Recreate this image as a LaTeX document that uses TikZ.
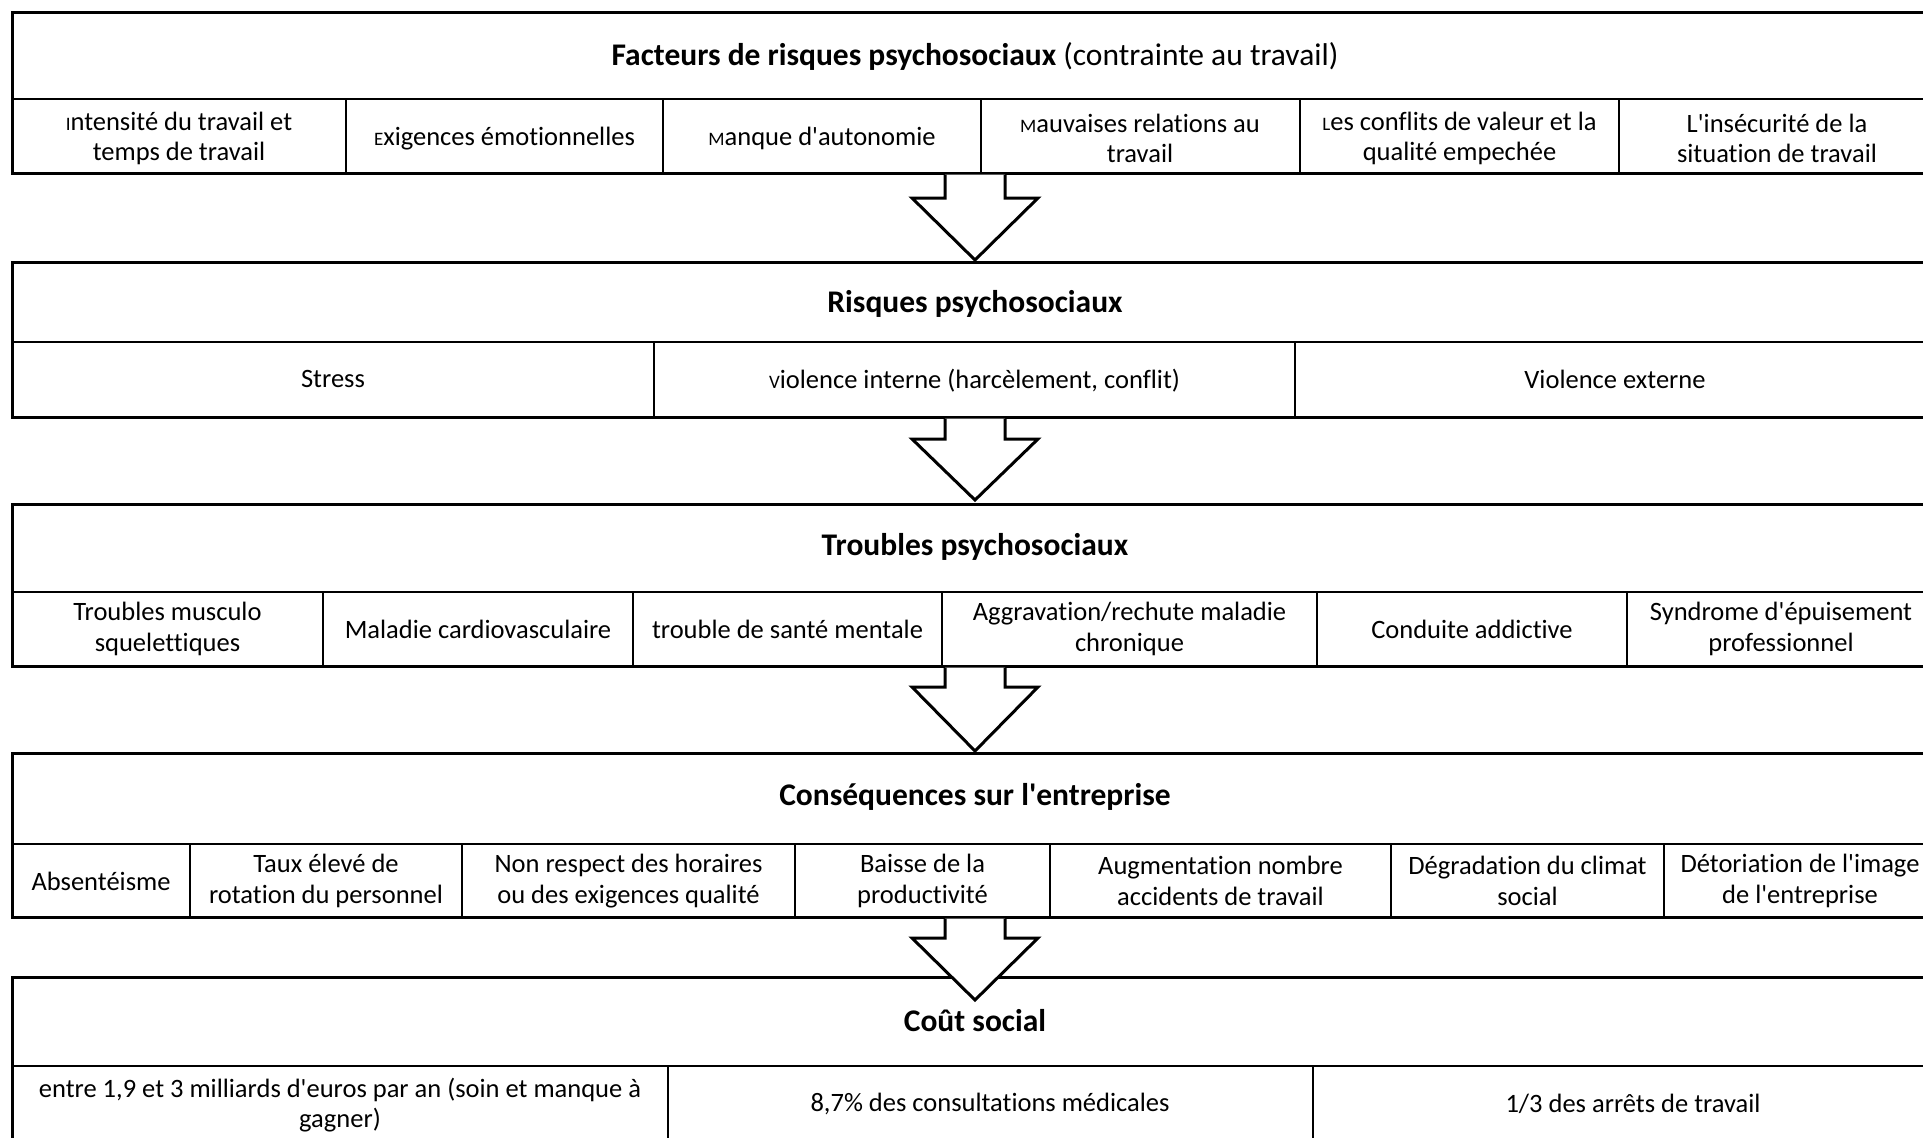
\documentclass[tikz,border=0pt]{standalone}
\usepackage{fontspec}
\setmainfont{Carlito}[Ligatures={TeXOff,NoCommon}]
\newcommand\smc[1]{{\fontsize{19}{19}\selectfont #1}}
\newcommand\blockarrow[3]{%
  \draw[barrow] (#1) ++(-30,1.5) -- ++(0,#2) -- ++(-33,0) -- ++(63,#3) -- ++(63,-#3) -- ++(-33,0) -- ++(0,-#2);}
\begin{document}
\begin{tikzpicture}[x=1pt,y=-1pt,
  outer/.style={line width=3pt,line join=miter},
  hline/.style={line width=2.5pt},
  divline/.style={line width=2pt},
  thindiv/.style={line width=1.3pt},
  cell/.style={align=center,font=\fontsize{26.5}{30.5}\selectfont,inner sep=0pt},
  head/.style={font=\fontsize{31.5}{36}\selectfont\bfseries,inner sep=0pt},
  barrow/.style={line width=3pt,fill=white,line join=miter}]
\useasboundingbox (0,0) rectangle (1923,1138);
\clip (0,0) rectangle (1923,1138);

% ---------- Block 1
\draw[outer] (12,12) rectangle (1950,173);
\draw[hline] (12,99) -- (1950,99);
\foreach \x in {346,663,981,1300,1619} \draw[divline] (\x,99) -- (\x,173);
\node[head] (h1) at (975,56) {Facteurs de risques psychosociaux \mdseries(contrainte au travail)};
\node[cell] (c11) at (179,138.5) {\smc{I}ntensité du travail et\\temps de travail};
\node[cell] (c12) at (504.5,138.5) {\smc{E}xigences émotionnelles};
\node[cell] (c13) at (822,138.5) {\smc{M}anque d'autonomie};
\node[cell] (c14) at (1140,138.5) {\smc{M}auvaises relations au\\travail};
\node[cell] (c15) at (1459.5,138.5) {\smc{L}es conflits de valeur et la\\qualité empechée};
\node[cell] (c16) at (1777,138.5) {L'insécurité de la\\situation de travail};

% ---------- Block 2
\draw[outer] (12,262) rectangle (1950,417);
\draw[hline] (12,342) -- (1950,342);
\foreach \x in {654,1295} \draw[divline] (\x,342) -- (\x,417);
\node[head] (h2) at (975,304) {Risques psychosociaux};
\node[cell] (c21) at (333,379) {Stress};
\node[cell] (c22) at (974.5,380.5) {\smc{V}iolence interne (harcèlement, conflit)};
\node[cell] (c23) at (1615,379) {Violence externe};

% ---------- Block 3
\draw[outer] (12,504) rectangle (1950,666);
\draw[hline] (12,592) -- (1950,592);
\foreach \x in {323,633,942,1317,1627} \draw[divline] (\x,592) -- (\x,666);
\node[head] (h3) at (975,547) {Troubles psychosociaux};
\node[cell] (c31) at (167.5,629) {Troubles musculo\\squelettiques};
\node[cell] (c32) at (478,629) {Maladie cardiovasculaire};
\node[cell] (c33) at (787.5,629) {trouble de santé mentale};
\node[cell] (c34) at (1129.5,629) {Aggravation/rechute maladie\\chronique};
\node[cell] (c35) at (1472,629) {Conduite addictive};
\node[cell] (c36) at (1781,629) {Syndrome d'épuisement\\professionnel};

% ---------- Block 4
\draw[outer] (12,753) rectangle (1950,917);
\draw[hline] (12,844) -- (1950,844);
\foreach \x in {190,462,795,1050,1391,1664} \draw[divline] (\x,844) -- (\x,917);
\node[head] (h4) at (975,797) {Conséquences sur l'entreprise};
\node[cell] (c41) at (101,881) {Absentéisme};
\node[cell] (c42) at (326,881) {Taux élevé de\\rotation du personnel};
\node[cell] (c43) at (628.5,881) {Non respect des horaires\\ou des exigences qualité};
\node[cell] (c44) at (922.5,881) {Baisse de la\\productivité};
\node[cell] (c45) at (1220.5,881) {Augmentation nombre\\accidents de travail};
\node[cell] (c46) at (1527.5,881) {Dégradation du climat\\social};
\node[cell] (c47) at (1800,881) {Détoriation de l'image\\de l'entreprise};

% ---------- Block 5
\draw[outer] (12,977) rectangle (1950,1160);
\draw[hline] (12,1066) -- (1950,1066);
\foreach \x in {668,1313} \draw[thindiv] (\x,1066) -- (\x,1160);
\node[head] (h5) at (975,1021) {Coût social};
\node[cell] (c51) at (340,1105) {entre 1,9 et 3 milliards d'euros par an (soin et manque à\\gagner)};
\node[cell] (c52) at (990,1104) {8,7\% des consultations médicales};
\node[cell] (c53) at (1633,1104) {1/3 des arrêts de travail};

% ---------- Arrows
\coordinate (a1) at (975,173);
\coordinate (a2) at (975,417);
\coordinate (a3) at (975,666);
\coordinate (a4) at (975,917);
\blockarrow{a1}{23.5}{62}
\blockarrow{a2}{20.5}{61}
\blockarrow{a3}{19.5}{64}
\blockarrow{a4}{19.5}{62}
\end{tikzpicture}
\end{document}
